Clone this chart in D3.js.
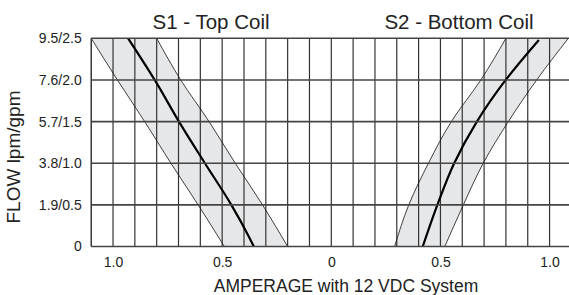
<!DOCTYPE html>
<html>
<head>
<meta charset="utf-8">
<script src="https://cdn.jsdelivr.net/npm/d3@7"></script>
<style>
  html, body { margin: 0; padding: 0; background: #fff; }
  svg { display: block; font-family: "Liberation Sans", Arial, Helvetica, sans-serif; }
</style>
</head>
<body>
<svg id="chart" width="569" height="295"></svg>
<script>
// ---- data (amperage) ----
const flowLevels = [0, 0.5, 1.0, 1.5, 2.0, 2.5];                 // gpm
const flowTickLabels = ["0", "1.9/0.5", "3.8/1.0", "5.7/1.5", "7.6/2.0", "9.5/2.5"];
const ampTicks = [-1.0, -0.5, 0, 0.5, 1.0];
const gridAmps = d3.range(-11, 12).map(d => d / 10);

// S1 - Top Coil (drawn on the left half)
const s1OuterAmp = [0.49, 0.61, 0.735, 0.855, 0.98, 1.1];
const s1InnerAmp = [0.2, 0.315, 0.44, 0.56, 0.69, 0.8];
const s1CenterFlow = [0, 0.1, 0.5, 1.0, 1.5, 2.0, 2.5];
const s1CenterAmp = [0.355, 0.374, 0.458, 0.579, 0.698, 0.809, 0.931];

// S2 - Bottom Coil (drawn on the right half)
const s2InnerAmp = [0.29, 0.355, 0.445, 0.55, 0.685, 0.80];
const s2OuterAmp = [0.52, 0.605, 0.696, 0.811, 0.941, 1.086];
const s2CenterFlow = [0, 0.5, 1.0, 1.5, 2.0, 2.48];
const s2CenterAmp = [0.419, 0.486, 0.563, 0.667, 0.799, 0.951];

const titles = ["S1 - Top Coil", "S2 - Bottom Coil"];
const xTitle = "AMPERAGE with 12 VDC System";
const yTitle = "FLOW lpm/gpm";

// ---- layout ----
const svg = d3.select("#chart");
const x = d3.scaleLinear().domain([-1.1, 1.1]).range([91.2, 571.4]);
const y = d3.scaleLinear().domain([0, 2.5]).range([246.5, 38.3]);

svg.append("defs").append("clipPath").attr("id", "plotclip")
  .append("rect").attr("x", x(-1.1)).attr("y", y(2.5))
  .attr("width", x(1.1) - x(-1.1)).attr("height", y(0) - y(2.5));

const plot = svg.append("g").attr("clip-path", "url(#plotclip)");

// bands
const bandArea = d3.area()
  .y(d => y(d.f))
  .x0(d => x(d.a0))
  .x1(d => x(d.a1))
  .curve(d3.curveMonotoneY);

const s1Band = flowLevels.map((f, i) => ({ f, a0: -s1OuterAmp[i], a1: -s1InnerAmp[i] }));
const s2Band = flowLevels.map((f, i) => ({ f, a0: s2InnerAmp[i], a1: s2OuterAmp[i] }));

plot.append("path").datum(s1Band).attr("d", bandArea).attr("fill", "#e6e7e9");
plot.append("path").datum(s2Band).attr("fill", "#e6e7e9").attr("d", bandArea);

// grid
plot.selectAll("line.v").data(gridAmps).join("line").attr("class", "v")
  .attr("x1", d => x(d)).attr("x2", d => x(d))
  .attr("y1", y(2.5)).attr("y2", y(0))
  .attr("stroke", "#333").attr("stroke-width", 1.2);

svg.selectAll("line.h").data(flowLevels).join("line").attr("class", "h")
  .attr("x1", x(-1.1)).attr("x2", 569)
  .attr("y1", d => y(d)).attr("y2", d => y(d))
  .attr("stroke", "#444").attr("stroke-width", 1.6);

svg.append("line").attr("x1", x(-1.1)).attr("x2", x(-1.1))
  .attr("y1", y(2.5)).attr("y2", y(0)).attr("stroke", "#333").attr("stroke-width", 1.4);

// edge lines
const edgeLine = d3.line().x(d => x(d.a)).y(d => y(d.f)).curve(d3.curveMonotoneY);
const edges = [
  flowLevels.map((f, i) => ({ f, a: -s1OuterAmp[i] })),
  flowLevels.map((f, i) => ({ f, a: -s1InnerAmp[i] })),
  flowLevels.map((f, i) => ({ f, a: s2InnerAmp[i] })),
  flowLevels.map((f, i) => ({ f, a: s2OuterAmp[i] }))
];
plot.selectAll("path.edge").data(edges).join("path").attr("class", "edge")
  .attr("d", edgeLine).attr("fill", "none").attr("stroke", "#111").attr("stroke-width", 0.8);

const centers = [
  s1CenterFlow.map((f, i) => ({ f, a: -s1CenterAmp[i] })),
  s2CenterFlow.map((f, i) => ({ f, a: s2CenterAmp[i] }))
];
plot.selectAll("path.center").data(centers).join("path").attr("class", "center")
  .attr("d", edgeLine).attr("fill", "none").attr("stroke", "#000").attr("stroke-width", 2.2);

// axes
const yAxis = d3.axisLeft(y).tickValues(flowLevels)
  .tickFormat((d, i) => flowTickLabels[i]).tickSize(0).tickPadding(9.5);
const gy = svg.append("g").attr("transform", `translate(${x(-1.1)},0)`).call(yAxis);
gy.select(".domain").remove();
gy.selectAll("text").attr("font-size", 14).attr("fill", "#222")
  .attr("font-family", "Liberation Sans, Arial, sans-serif");

const xAxis = d3.axisBottom(x).tickValues(ampTicks)
  .tickFormat(d => d3.format(".1f")(Math.abs(d)).replace(/^0\.0$/, "0"))
  .tickSize(0).tickPadding(10.5);
const gx = svg.append("g").attr("transform", `translate(0,${y(0)})`).call(xAxis);
gx.select(".domain").remove();
gx.selectAll("text").attr("font-size", 14).attr("fill", "#222")
  .attr("font-family", "Liberation Sans, Arial, sans-serif");

// titles
svg.selectAll("text.title").data(titles).join("text").attr("class", "title")
  .attr("x", (d, i) => i === 0 ? 211 : 459).attr("y", 28.5)
  .attr("text-anchor", "middle").attr("font-size", 20.5).attr("fill", "#222")
  .text(d => d);

svg.append("text").attr("x", 346).attr("y", 291.5).attr("text-anchor", "middle")
  .attr("font-size", 17.5).attr("fill", "#222").text(xTitle);

svg.append("text").attr("transform", "translate(20,157) rotate(-90)")
  .attr("text-anchor", "middle").attr("font-size", 19).attr("fill", "#222").text(yTitle);
</script>
</body>
</html>
